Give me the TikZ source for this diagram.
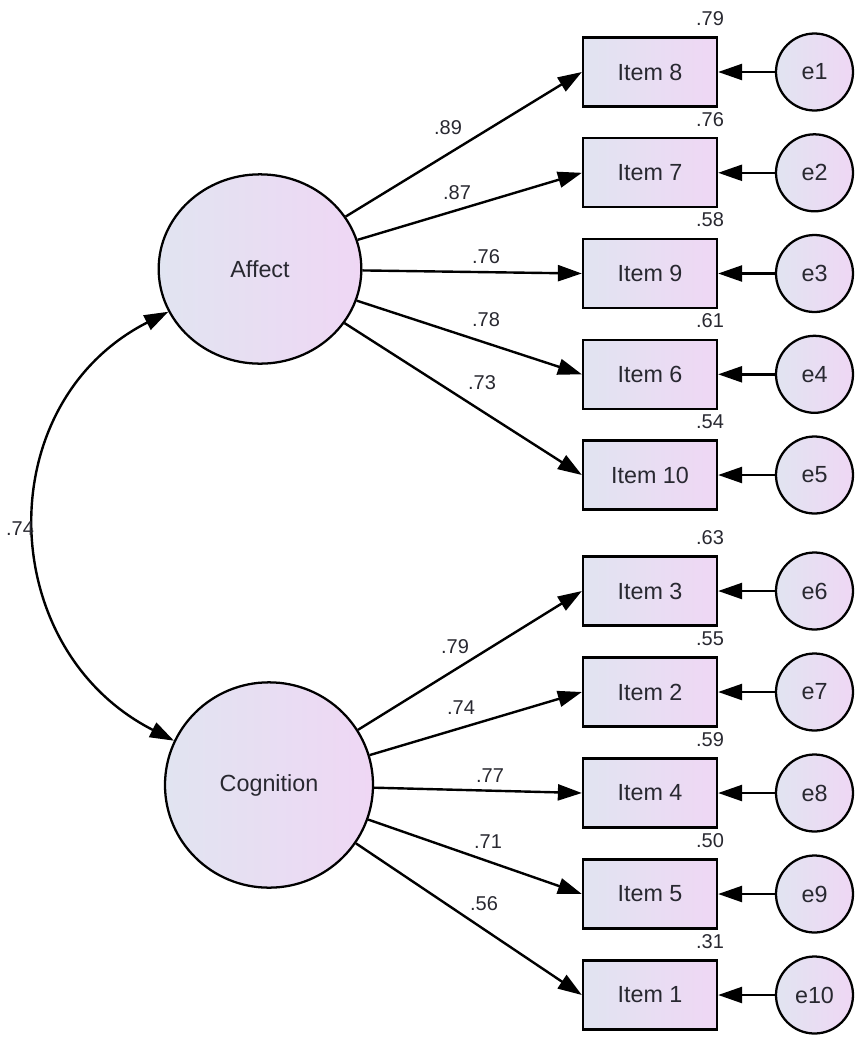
\documentclass[tikz,border=0pt]{standalone}
\usepackage{fontspec}
\setmainfont{Liberation Sans}
\usepackage{tikz}
\usetikzlibrary{arrows.meta}
\usetikzlibrary{shapes.geometric}
\definecolor{fillA}{RGB}{225,228,241}
\definecolor{fillB}{RGB}{239,215,244}
\definecolor{ink}{RGB}{40,40,48}
\tikzset{latent/.style ={draw, ellipse, line width=1.7pt, left color=fillA, right color=fillB, text=ink, font=\fontsize{17.5}{20}\selectfont}}
\tikzset{observed/.style ={draw, rectangle, line width=1.7pt, minimum width=100.5pt, minimum height=51.75pt, left color=fillA, right color=fillB, text=ink, font=\fontsize{17.5}{20}\selectfont}}
\tikzset{err/.style ={draw, circle, line width=1.7pt, minimum size=57.75pt, inner sep=0pt, left color=fillA, right color=fillB, text=ink, font=\fontsize{17.5}{20}\selectfont}}
\tikzset{num/.style ={text=ink, inner sep=0pt, font=\fontsize{15}{17}\selectfont}}
\tikzset{arr/.style ={line width=1.8pt, -{Triangle[length=18pt,width=12pt]}}}

\begin{document}
\begin{tikzpicture}[x=0.75pt, y=-0.75pt]
\useasboundingbox (0,0) rectangle (862,1050);
\node[latent, minimum width=152pt, minimum height=142pt] (aff) at (260,269) {Affect};
\node[latent, minimum width=156pt, minimum height=154pt] (cog) at (269,785) {Cognition};
% items, errors, loadings
\foreach \n/\txt/\y/\rsq/\ld/\lx/\ly/\f in {
 1/Item 8/72/.79/.89/448/128/aff,
 2/Item 7/172.8/.76/.87/457/193/aff,
 3/Item 9/273.5/.58/.76/486/257/aff,
 4/Item 6/374.3/.61/.78/486/320/aff,
 5/Item 10/475/.54/.73/482/383/aff,
 6/Item 3/591/.63/.79/455/647/cog,
 7/Item 2/692/.55/.74/461/708/cog,
 8/Item 4/793/.59/.77/490/776/cog,
 9/Item 5/894/.50/.71/488/842/cog,
 10/Item 1/995/.31/.56/484/904/cog}
{
\node[observed] (i\n) at (650,\y) {\txt};
\node[err] (e\n) at (814.5,\y) {e\n};
\node[num, anchor=east] (r\n) at ([shift={(6,-18)}]i\n.north east) {\rsq};
\node[num] (l\n) at (\lx,\ly) {\ld};
\draw[arr] (\f) -- (i\n.west);
\draw[arr] (e\n) -- (i\n);
}
% covariance
\draw[arr, {Triangle[length=18pt,width=12pt]}-{Triangle[length=18pt,width=12pt]}] (aff.205) to[out=207, in=153, looseness=1.2] (cog.155);
\node[num] (cov) at (20,529) {.74};
\end{tikzpicture}
\end{document}
